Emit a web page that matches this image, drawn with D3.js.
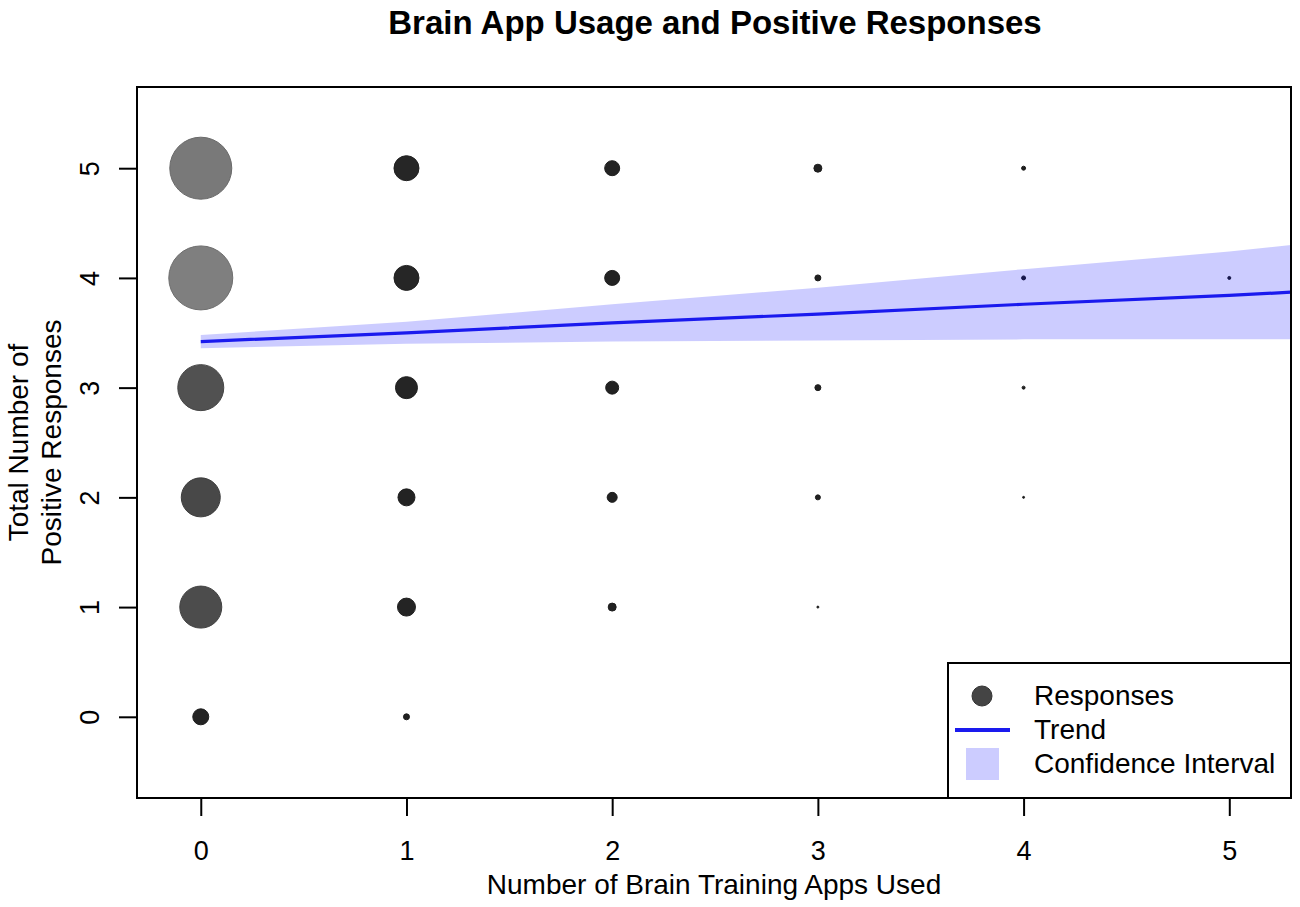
<!DOCTYPE html>
<html>
<head>
<meta charset="utf-8">
<script src="https://cdn.jsdelivr.net/npm/d3@7"></script>
<style>
  body { margin: 0; background: #fff; }
  text { font-family: "Liberation Sans", Arial, sans-serif; fill: #000; }
</style>
</head>
<body>
<div id="chart"></div>
<script>
// bubble data: number of apps used, number of positive responses, respondent count
const pointApps   = [0, 0, 0, 0, 0, 0,  1, 1, 1, 1, 1, 1,  2, 2, 2, 2, 2,  3, 3, 3, 3, 3,  4, 4, 4, 4,  5];
const pointScores = [5, 4, 3, 2, 1, 0,  5, 4, 3, 2, 1, 0,  5, 4, 3, 2, 1,  5, 4, 3, 2, 1,  5, 4, 3, 2,  4];
const pointCounts = [62, 64, 46, 39, 42, 16,  25, 25, 22, 17, 18, 6,  15, 15, 13, 10, 8,  8, 6, 6, 5, 2,  4, 4, 3, 2,  3];

// linear trend with confidence band
const trendX     = [0, 1, 2, 3, 4, 5, 5.3];
const trendFit   = [3.42, 3.50, 3.59, 3.67, 3.76, 3.84, 3.87];
const trendLower = [3.36, 3.40, 3.42, 3.43, 3.44, 3.44, 3.44];
const trendUpper = [3.48, 3.60, 3.76, 3.91, 4.08, 4.24, 4.30];

const xTicks = [0, 1, 2, 3, 4, 5];
const yTicks = [0, 1, 2, 3, 4, 5];
const legendLabels = ["Responses", "Trend", "Confidence Interval"];

const W = 1300, H = 907;
const plot = { left: 137, right: 1291, top: 87, bottom: 798 };

const svg = d3.select("#chart")
  .append("svg")
  .attr("width", W)
  .attr("height", H);

const x = d3.scaleLinear().domain([-0.31, 5.30]).range([plot.left, plot.right]);
const y = d3.scaleLinear().domain([-0.74, 5.74]).range([plot.bottom, plot.top]);
const r = d3.scaleLinear().domain([0, 64]).range([0, 32]);
const shade = d3.scaleLinear()
  .domain([0, 25, 40, 50, 64])
  .range(["#1e1e1e", "#262626", "#4a4a4a", "#555555", "#7f7f7f"])
  .clamp(true);

svg.append("clipPath")
  .attr("id", "plot-clip")
  .append("rect")
  .attr("x", plot.left)
  .attr("y", plot.top)
  .attr("width", plot.right - plot.left)
  .attr("height", plot.bottom - plot.top);

// Bubbles
const points = pointApps.map((a, i) => ({ a, s: pointScores[i], n: pointCounts[i] }));

svg.append("g")
  .selectAll("circle")
  .data(points)
  .join("circle")
  .attr("cx", d => x(d.a))
  .attr("cy", d => y(d.s))
  .attr("r", d => r(d.n))
  .attr("fill", d => shade(d.n))
  .attr("stroke", d => d3.color(shade(d.n)).darker(0.4))
  .attr("stroke-width", 1);

// Confidence band and trend line
const trend = trendX.map((v, i) => ({ x: v, fit: trendFit[i], lo: trendLower[i], hi: trendUpper[i] }));

const gTrend = svg.append("g").attr("clip-path", "url(#plot-clip)");

gTrend.append("path")
  .datum(trend)
  .attr("fill", "rgba(0,0,255,0.2)")
  .attr("d", d3.area().x(d => x(d.x)).y0(d => y(d.lo)).y1(d => y(d.hi)));

gTrend.append("path")
  .datum(trend)
  .attr("fill", "none")
  .attr("stroke", "#1a1aee")
  .attr("stroke-width", 3.2)
  .attr("d", d3.line().x(d => x(d.x)).y(d => y(d.fit)));

// Axes
const xAxis = svg.append("g")
  .attr("transform", `translate(0,${plot.bottom})`)
  .call(d3.axisBottom(x).tickValues(xTicks).tickSize(18).tickPadding(25).tickFormat(d3.format("d")));
xAxis.select(".domain").remove();

const yAxis = svg.append("g")
  .attr("transform", `translate(${plot.left},0)`)
  .call(d3.axisLeft(y).tickValues(yTicks).tickSize(18).tickPadding(14).tickFormat(d3.format("d")));
yAxis.select(".domain").remove();
yAxis.selectAll(".tick text")
  .attr("transform", "rotate(-90)")
  .attr("x", 0)
  .attr("y", -47)
  .attr("dy", "0.35em")
  .style("text-anchor", "middle");

svg.selectAll(".tick line").attr("stroke", "#000").attr("stroke-width", 2);
svg.selectAll(".tick text").style("font-size", "27px").style("font-family", "Liberation Sans, Arial, sans-serif");

// Plot box
svg.append("rect")
  .attr("x", plot.left)
  .attr("y", plot.top)
  .attr("width", plot.right - plot.left)
  .attr("height", plot.bottom - plot.top)
  .attr("fill", "none")
  .attr("stroke", "#000")
  .attr("stroke-width", 2);

// Titles
svg.append("text")
  .attr("x", (plot.left + plot.right) / 2 + 1)
  .attr("y", 34)
  .style("text-anchor", "middle")
  .style("font-size", "33px")
  .style("font-weight", "bold")
  .text("Brain App Usage and Positive Responses");

svg.append("text")
  .attr("x", (plot.left + plot.right) / 2)
  .attr("y", 894)
  .style("text-anchor", "middle")
  .style("font-size", "28px")
  .text("Number of Brain Training Apps Used");

const yTitle = svg.append("text")
  .attr("transform", `translate(28,${(plot.top + plot.bottom) / 2}) rotate(-90)`)
  .style("text-anchor", "middle")
  .style("font-size", "28px");
yTitle.append("tspan").attr("x", 0).attr("dy", 0).text("Total Number of");
yTitle.append("tspan").attr("x", 0).attr("dy", 33).text("Positive Responses");

// Legend
const legend = svg.append("g");
legend.append("rect")
  .attr("x", 948)
  .attr("y", 663)
  .attr("width", plot.right - 948)
  .attr("height", plot.bottom - 663)
  .attr("fill", "#fff")
  .attr("stroke", "#000")
  .attr("stroke-width", 2);

legend.append("circle")
  .attr("cx", 982).attr("cy", 696).attr("r", 10)
  .attr("fill", "#444").attr("stroke", "#333");

legend.append("line")
  .attr("x1", 955).attr("x2", 1010)
  .attr("y1", 730).attr("y2", 730)
  .attr("stroke", "#1a1aee").attr("stroke-width", 4);

legend.append("rect")
  .attr("x", 966).attr("y", 748)
  .attr("width", 33).attr("height", 32)
  .attr("fill", "rgba(0,0,255,0.2)");

legend.selectAll("text.lab")
  .data(legendLabels)
  .join("text")
  .attr("class", "lab")
  .attr("x", 1034)
  .attr("y", (d, i) => 705 + i * 34)
  .style("font-size", "28px")
  .text(d => d);
</script>
</body>
</html>
